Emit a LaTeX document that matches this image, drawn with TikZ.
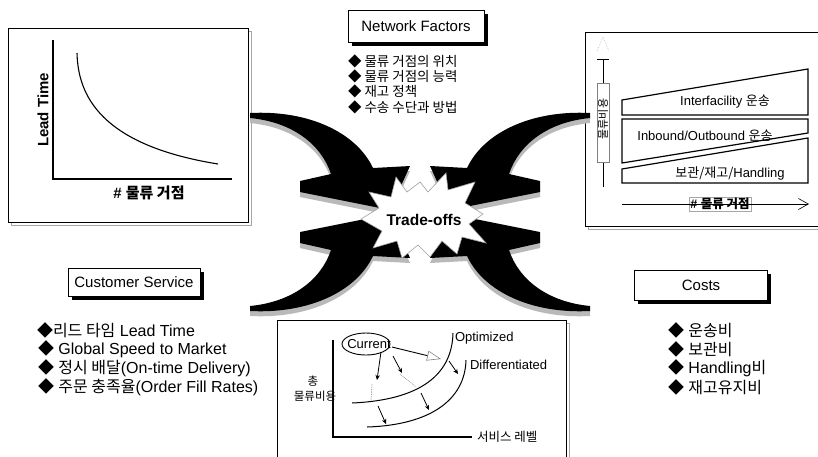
\documentclass[tikz,border=0pt]{standalone}
\usepackage{fontspec}
\setmainfont{Liberation Sans}
\newfontfamily\kr{Noto Sans CJK KR}
\usetikzlibrary{arrows.meta,shadows,shapes.geometric}

\newcommand\bul{{\kr ◆}}

\tikzset{
  swoosh/.pic={
    \path[pic actions] (-170,-99) .. controls (-112,-102) and (-64,-80) .. (-47,-44)
      -- (-10,-46) -- (-30,-2) -- (-120,-20) -- (-120,-31) -- (-89,-38)
      .. controls (-99,-68) and (-128,-90) .. (-170,-94) -- cycle;
  }
}

\begin{document}
\begin{tikzpicture}[x=1pt,y=-1pt,
  every node/.style={inner sep=0pt, outer sep=0pt},
  titlebox/.style={draw=black, line width=0.8pt, fill=white,
    font=\fontsize{15}{18}\selectfont,
    drop shadow={shadow xshift=3.5pt, shadow yshift=-3.5pt, fill=black, opacity=1}},
  bulletline/.style={anchor=west, font=\fontsize{16}{19}\selectfont},
  nfline/.style={anchor=west, font=\kr\fontsize{13.5}{16}\selectfont},
  axisline/.style={line width=2.2pt},
  trap/.style={draw=black, line width=1.2pt, fill=white},
  smallarrow/.style={line width=0.8pt, -{Stealth[length=5pt,width=4.5pt]}},
  dotline/.style={gray, line width=0.7pt, densely dotted},
]
\useasboundingbox (0,0) rectangle (818,456);

% ---------- lead time chart (top left) ----------
\draw[gray!70, line width=0.8pt] (11,31) rectangle (251,225);
\draw[line width=0.9pt, fill=white] (8,28) rectangle (248,222);
\draw[axisline] (53,40) -- (53,179) -- (232,179);
\draw[line width=1.1pt] (77,53) .. controls (78,95) and (100,145) .. (218,164);
\node[rotate=90, font=\bfseries\fontsize{15}{18}\selectfont] (ltlabel) at (43,110) {Lead Time};
\node[font=\bfseries\fontsize{15}{18}\selectfont] (ltx) at (149,193) {\# {\kr 물류 거점}};

% ---------- network factors ----------
\node[titlebox, minimum width=136pt, minimum height=32pt] (nf) at (416,26) {Network Factors};
\node[nfline] (nf1) at (348,61) {◆ 물류 거점의 위치};
\node[nfline] (nf2) at (348,76) {◆ 물류 거점의 능력};
\node[nfline] (nf3) at (348,91) {◆ 재고 정책};
\node[nfline] (nf4) at (348,107) {◆ 수송 수단과 방법};

% ---------- cost structure chart (top right) ----------
\draw[gray!70, line width=0.8pt] (588,35) rectangle (840,229);
\draw[line width=0.9pt, fill=white] (585,32) rectangle (840,226);
\draw[trap] (622,100) -- (808,69) -- (808,115) -- (622,115) -- cycle;
\draw[trap] (622,119) -- (808,119) -- (808,133) -- (622,163) -- cycle;
\draw[trap] (622,169) -- (808,138) -- (808,183) -- (622,183) -- cycle;
\node[font=\fontsize{13}{15}\selectfont] (t1) at (725,102) {Interfacility {\kr 운송}};
\node[font=\fontsize{13}{15}\selectfont] (t2) at (705,136) {Inbound/Outbound {\kr 운송}};
\node[font=\fontsize{13}{15}\selectfont] (t3) at (730,173) {{\kr 보관/재고/}Handling};
% vertical axis
\coordinate (vtop) at (603,59);
\coordinate (vbot) at (603,187);
\draw[dotline, gray!40] (597,51) -- (603,37) -- (609,51);
\draw[line width=0.9pt] (vtop) -- (vbot);
\draw[line width=0.9pt] (597,59) -- (609,59);
\draw[gray, line width=0.6pt, fill=white] (597,83) rectangle (609,162);
\node[rotate=90, font=\kr\fontsize{11}{12}\selectfont] (vlabel) at (603,119) {물류비용};
% horizontal axis
\node[draw=gray!70, line width=0.5pt, inner xsep=1.5pt, inner ysep=1pt,
      font=\bfseries\fontsize{12.5}{14}\selectfont] (hlabel) at (720,204) {\# {\kr 물류 거점}};
\coordinate (hstart) at (622,204);
\coordinate (hend) at (809,204);
\draw[line width=0.9pt, -{Straight Barb[length=10pt,width=11pt,line width=0.6pt]}] (hstart) -- (hend);

% ---------- the four curved arrows ----------
\pic[fill=gray!55] at (420,217) {swoosh};
\pic[fill=gray!55, xscale=-1] at (420,217) {swoosh};
\pic[fill=gray!55, yscale=-1] at (420,217) {swoosh};
\pic[fill=gray!55, xscale=-1, yscale=-1] at (420,217) {swoosh};
\pic[fill=black] at (420,212) {swoosh};
\pic[fill=black, xscale=-1] at (420,212) {swoosh};
\pic[fill=black, yscale=-1] at (420,212) {swoosh};
\pic[fill=black, xscale=-1, yscale=-1] at (420,212) {swoosh};

% ---------- starburst ----------
\draw[gray!75, line width=0.6pt, fill=white]
  (361,219) -- (379,208) -- (369,192) -- (391,197) -- (396,177) -- (407,192)
  -- (420,182) -- (428,192) -- (446,173) -- (448,190) -- (475,182) -- (465,203)
  -- (483,214) -- (469,224) -- (486,243) -- (462,237) -- (457,254) -- (442,241)
  -- (430,257) -- (418,245) -- (402,258) -- (397,241) -- (373,248) -- (382,231) -- cycle;
\node[font=\bfseries\fontsize{15.5}{18}\selectfont] (tradeoffs) at (424,220) {Trade-offs};

% ---------- customer service ----------
\node[titlebox, minimum width=132pt, minimum height=28pt] (cs) at (134,282) {Customer Service};
\node[bulletline] (cs1) at (37,330) {\bul{\kr 리드 타임} Lead Time};
\node[bulletline] (cs2) at (38,349) {\bul\ Global Speed to Market};
\node[bulletline] (cs3) at (38,368) {\bul\ {\kr 정시 배달}(On-time Delivery)};
\node[bulletline] (cs4) at (38,387) {\bul\ {\kr 주문 충족율}(Order Fill Rates)};

% ---------- costs ----------
\node[titlebox, minimum width=133pt, minimum height=30pt] (costs) at (701,285) {Costs};
\node[bulletline] (c1) at (668,330) {\bul\ {\kr 운송비}};
\node[bulletline] (c2) at (668,349) {\bul\ {\kr 보관비}};
\node[bulletline] (c3) at (668,368) {\bul\ Handling{\kr 비}};
\node[bulletline] (c4) at (668,387) {\bul\ {\kr 재고유지비}};

% ---------- service level chart (bottom) ----------
\draw[gray!70, line width=0.8pt] (280,323) rectangle (569,470);
\draw[line width=0.9pt, fill=white] (277,320) rectangle (566,470);
\draw[axisline, line width=2pt] (333,340) -- (333,437) -- (472,437);
\node[anchor=west, font=\kr\fontsize{12.5}{14}\selectfont] (slabel) at (477,437) {서비스 레벨};
\node[font=\kr\fontsize{11.5}{13}\selectfont] (tot) at (313,381) {총};
\node[font=\kr\fontsize{11.5}{13}\selectfont] (cost) at (315,396) {물류비용};
\draw[line width=1pt] (352,403) .. controls (420,400) and (452,375) .. (453,333);
\draw[line width=1pt] (367,427) .. controls (430,425) and (465,400) .. (466,360);
\node[anchor=west, font=\fontsize{13}{15}\selectfont] (opt) at (455,338) {Optimized};
\node[anchor=west, font=\fontsize{13}{15}\selectfont] (diff) at (470,365) {Differentiated};
\node[draw, ellipse, line width=0.9pt, minimum width=48pt, minimum height=22pt] (curell) at (366,344) {};
\node[font=\fontsize{13}{15}\selectfont] (cur) at (369,344) {Current};
\coordinate (a1s) at (392,347);
\coordinate (a1e) at (441,359);
\draw[line width=0.9pt, -{Triangle[open,length=14pt,width=10pt,color=gray,line width=0.6pt]}] (a1s) -- (a1e);
\draw[smallarrow] (381,352) -- (377,380);
\draw[dotline] (372,384) -- (371,401);
\draw[smallarrow] (378,406) -- (386,424);
\draw[smallarrow] (393,356) -- (402,373);
\draw[dotline] (400,374) -- (416,387);
\draw[smallarrow] (421,393) -- (429,410);
\draw[smallarrow] (449,361) -- (458,374);
\end{tikzpicture}
\end{document}
